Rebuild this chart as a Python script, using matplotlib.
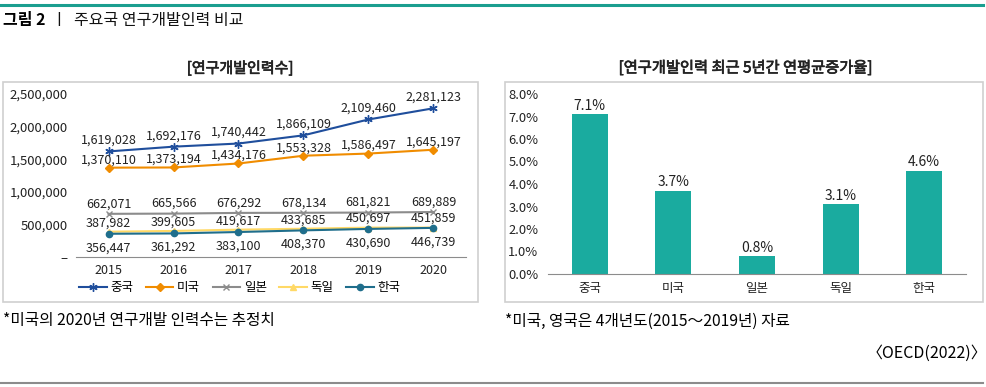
import matplotlib
matplotlib.use("Agg")
import matplotlib.pyplot as plt
import matplotlib.patheffects as pe
from matplotlib.patches import Rectangle
from matplotlib.lines import Line2D

plt.rcParams['font.family'] = ['Noto Sans CJK KR', 'DejaVu Sans']

# data
years = ['2015', '2016', '2017', '2018', '2019', '2020']
china = [1619028, 1692176, 1740442, 1866109, 2109460, 2281123]
usa = [1370110, 1373194, 1434176, 1553328, 1586497, 1645197]
japan = [662071, 665566, 676292, 678134, 681821, 689889]
germany = [387982, 399605, 419617, 433685, 450697, 451859]
korea = [356447, 361292, 383100, 408370, 430690, 446739]

countries = ['중국', '미국', '일본', '독일', '한국']
growth = [7.1, 3.7, 0.8, 3.1, 4.6]

W, H = 986, 387
fig = plt.figure(figsize=(W / 100, H / 100), dpi=100)


def box(x0, y0, x1, y1):
    # pixel coords (top-left origin) -> figure fraction axes rect
    return [x0 / W, 1 - y1 / H, (x1 - x0) / W, (y1 - y0) / H]


semi = [pe.withStroke(linewidth=0.5, foreground='#222222')]

# header / footer rules
fig.add_artist(Line2D([0, 983 / W], [1 - 5 / H] * 2, color='#1a9e8f', lw=2.2))
fig.add_artist(Line2D([0, 983 / W], [1 - 383 / H] * 2, color='#8c8c8c', lw=1.5))
fig.text(3 / W, 1 - 20 / H, '그림 2', fontsize=11.5, fontweight='bold', va='center')
fig.text(52 / W, 1 - 20 / H, 'ㅣ  주요국 연구개발인력 비교', fontsize=11.5, va='center',
         color='#111111')

# panel frames
for x0, x1 in [(3, 478), (505, 983)]:
    fig.add_artist(Rectangle((x0 / W, 1 - 302 / H), (x1 - x0) / W, 220 / H,
                             transform=fig.transFigure, fill=False,
                             ec='#cfcfcf', lw=1.2))

fig.text(240 / W, 1 - 68 / H, '[연구개발인력수]', fontsize=10.8, ha='center', va='center',
         color='#222222', path_effects=semi)
fig.text(745 / W, 1 - 68 / H, '[연구개발인력 최근 5년간 연평균증가율]', fontsize=11,
         ha='center', va='center', color='#222222', path_effects=semi)

# ---- line chart
ax1 = fig.add_axes(box(76, 94, 466, 257))
x = range(len(years))
series = [
    ('중국', china, '#1f4e9c', (6, 2, 0), 6, 11),
    ('미국', usa, '#f08c00', 'D', 4, 8),
    ('일본', japan, '#8c8c8c', 'x', 4, 10),
    ('독일', germany, '#ffd966', '^', 5, 9),
    ('한국', korea, '#1f6e8c', 'o', 4.5, -14),
]
for name, vals, col, mk, ms, off in series:
    ax1.plot(x, vals, color=col, marker=mk, markersize=ms, lw=1.5, label=name,
             markeredgewidth=1)
    for i, v in enumerate(vals):
        ax1.annotate(f'{v:,}', (i, v), xytext=(0, off * 0.72), textcoords='offset points',
                     ha='center', va='center', fontsize=9, color='#222222')

ax1.set_xlim(-0.5, 5.5)
ax1.set_ylim(0, 2500000)
ax1.set_yticks([0, 500000, 1000000, 1500000, 2000000, 2500000])
ax1.set_yticklabels(['–', '500,000', '1,000,000', '1,500,000', '2,000,000', '2,500,000'])
ax1.set_xticks(list(x))
ax1.set_xticklabels(years)
for s in ['top', 'right', 'left']:
    ax1.spines[s].set_visible(False)
ax1.spines['bottom'].set_color('#8c8c8c')
ax1.tick_params(length=0, labelsize=9, colors='#222222')
ax1.tick_params(axis='y', pad=6, labelsize=9.5)
ax1.tick_params(axis='x', pad=5)
ax1.legend(loc='center', bbox_to_anchor=(0.42, -31 / 163), ncol=5, frameon=False,
           fontsize=9, handlelength=2.2, columnspacing=1.0, handletextpad=0.3)

# ---- bar chart
ax2 = fig.add_axes(box(548, 94, 966, 274))
ax2.bar(range(len(countries)), growth, width=0.43, color='#1aab9f')
for i, v in enumerate(growth):
    ax2.annotate(f'{v:.1f}%', (i, v), xytext=(0, 6), textcoords='offset points',
                 ha='center', va='center', fontsize=10, color='#222222')
ax2.set_xlim(-0.5, 4.5)
ax2.set_ylim(0, 8)
ax2.set_yticks(range(9))
ax2.set_yticklabels([f'{t:.1f}%' for t in range(9)])
ax2.set_xticks(range(len(countries)))
ax2.set_xticklabels(countries)
for s in ['top', 'right', 'left']:
    ax2.spines[s].set_visible(False)
ax2.spines['bottom'].set_color('#8c8c8c')
ax2.tick_params(length=0, colors='#222222')
ax2.tick_params(axis='y', pad=7, labelsize=9.3)
ax2.tick_params(axis='x', pad=6, labelsize=9)

# footnotes
fig.text(3 / W, 1 - 320 / H, '*미국의 2020년 연구개발 인력수는 추정치', fontsize=11.3, va='center')
fig.text(505 / W, 1 - 321 / H, '*미국, 영국은 4개년도(2015～2019년) 자료', fontsize=11.3,
         va='center')
fig.text(987 / W, 1 - 353 / H, '〈OECD(2022)〉', fontsize=11.5, ha='right', va='center')

fig.savefig('out.png', dpi=100)
